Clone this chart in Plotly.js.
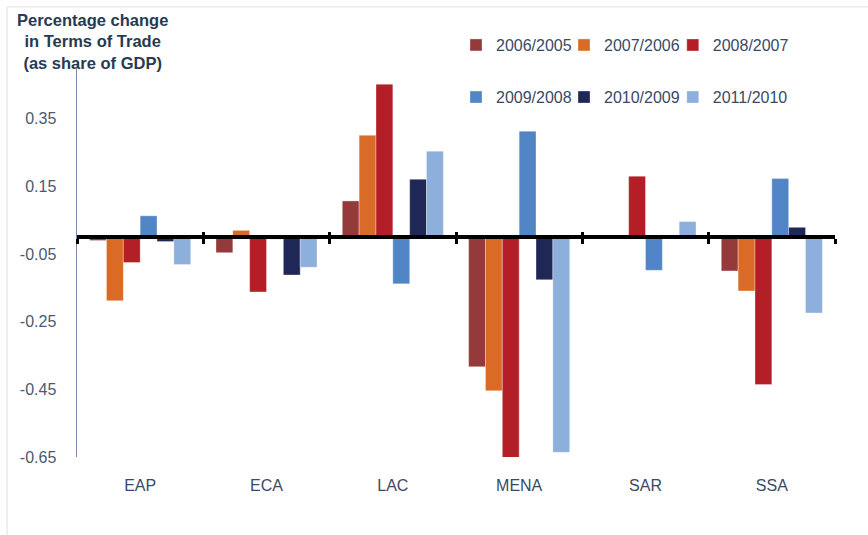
<!DOCTYPE html>
<html>
<head>
<meta charset="utf-8">
<script src="https://cdn.plot.ly/plotly-3.0.1.min.js"></script>
<style>html,body{margin:0;padding:0;background:#fff;}#chart{width:868px;height:535px;}</style>
</head>
<body>
<div id="chart"></div>
<script>
// ---- data ----
const regions = ['EAP', 'ECA', 'LAC', 'MENA', 'SAR', 'SSA'];
const seriesNames = ['2006/2005', '2007/2006', '2008/2007', '2009/2008', '2010/2009', '2011/2010'];
const s2006_2005 = [-0.01, -0.046, 0.107, -0.383, null, -0.10];
const s2007_2006 = [-0.188, 0.02, 0.301, -0.454, null, -0.159];
const s2008_2007 = [-0.075, -0.162, 0.452, -0.656, 0.18, -0.436];
const s2009_2008 = [0.063, -0.006, -0.138, 0.313, -0.098, 0.173];
const s2010_2009 = [-0.013, -0.112, 0.171, -0.126, null, 0.029];
const s2011_2010 = [-0.081, -0.089, 0.254, -0.636, 0.046, -0.224];
const yTickLabels = ['-0.65', '-0.45', '-0.25', '-0.05', '0.15', '0.35'];
const titleText = 'Percentage change<br>in Terms of Trade<br>(as share of GDP)';

// ---- styles ----
const colors = ['#953a3b', '#da6b26', '#b41f27', '#5185c5', '#1f2756', '#8cafdc'];
const allSeries = [s2006_2005, s2007_2006, s2008_2007, s2009_2008, s2010_2009, s2011_2010];
const legendX = [0.5, 0.6425, 0.786];
const legendY = [1.059, 0.925];
const yMin = -0.65, yMax = 0.5;
const zeroFrac = (0 - yMin) / (yMax - yMin);
const textColor = '#3a4a64';
const fontFam = '"Liberation Sans", Arial, sans-serif';

const legendId = i => (i === 0 ? 'legend' : 'legend' + (i + 1));

const traces = allSeries.map((vals, i) => ({
  type: 'bar',
  name: seriesNames[i],
  x: regions,
  y: vals,
  marker: {color: colors[i], line: {width: 0.6, color: 'rgba(255,255,255,0.55)'}},
  legend: legendId(i),
  hoverinfo: 'x+y+name'
}));
// helper traces so the zero-line axes get the categories
['x2', 'x3'].forEach(ax => traces.push({
  type: 'scatter', mode: 'none', x: regions, y: regions.map(() => null),
  xaxis: ax, showlegend: false, hoverinfo: 'skip'
}));

const zeroAxisBase = {
  type: 'category', overlaying: 'x', matches: 'x', anchor: 'free', position: zeroFrac,
  tickson: 'boundaries', ticklen: 5, tickwidth: 3, tickcolor: '#000',
  showticklabels: false, showgrid: false, zeroline: false, layer: 'above traces'
};

const layout = {
  width: 868, height: 535,
  margin: {l: 77, r: 33, t: 68, b: 78},
  paper_bgcolor: '#fff', plot_bgcolor: '#fff',
  font: {family: fontFam, size: 16, color: textColor},
  barmode: 'group', bargap: 0.2, bargroupgap: 0,
  xaxis: {
    type: 'category', showline: false, ticks: '', showgrid: false, zeroline: false,
    tickfont: {size: 16, color: textColor}, ticklabelstandoff: 17
  },
  xaxis2: Object.assign({}, zeroAxisBase, {showline: true, linecolor: '#000', linewidth: 4, ticks: 'outside'}),
  xaxis3: Object.assign({}, zeroAxisBase, {showline: false, ticks: 'inside'}),
  yaxis: {
    range: [yMin, yMax], tickmode: 'array',
    tickvals: yTickLabels.map(Number), ticktext: yTickLabels,
    showline: true, linecolor: '#7a8aa2', linewidth: 1.5,
    showgrid: false, zeroline: false, ticks: '',
    tickfont: {size: 16, color: '#4a5a74'}, ticklabelstandoff: 16
  },
  annotations: [{
    text: titleText, xref: 'paper', yref: 'paper', x: 0.0198, y: 1.067,
    xanchor: 'center', yanchor: 'middle', showarrow: false, align: 'center',
    font: {size: 16.5, color: '#283a52', family: fontFam, weight: 'bold'}
  }],
  shapes: [
    {type: 'line', xref: 'paper', yref: 'paper', x0: -0.0923, x1: -0.0923, y0: 1.157, y1: -0.21, line: {color: '#e2e2e2', width: 1}},
    {type: 'line', xref: 'paper', yref: 'paper', x0: -0.0923, x1: 1.06, y0: 1.157, y1: 1.157, line: {color: '#e2e2e2', width: 1}}
  ],
  showlegend: true
};

seriesNames.forEach((n, i) => {
  layout[legendId(i)] = {
    orientation: 'h', x: legendX[i % 3], xanchor: 'left', y: legendY[Math.floor(i / 3)], yanchor: 'middle',
    font: {size: 16, color: textColor}, itemwidth: 30, bgcolor: 'rgba(0,0,0,0)'
  };
});

Plotly.newPlot('chart', traces, layout, {displayModeBar: false, staticPlot: true});
</script>
</body>
</html>
